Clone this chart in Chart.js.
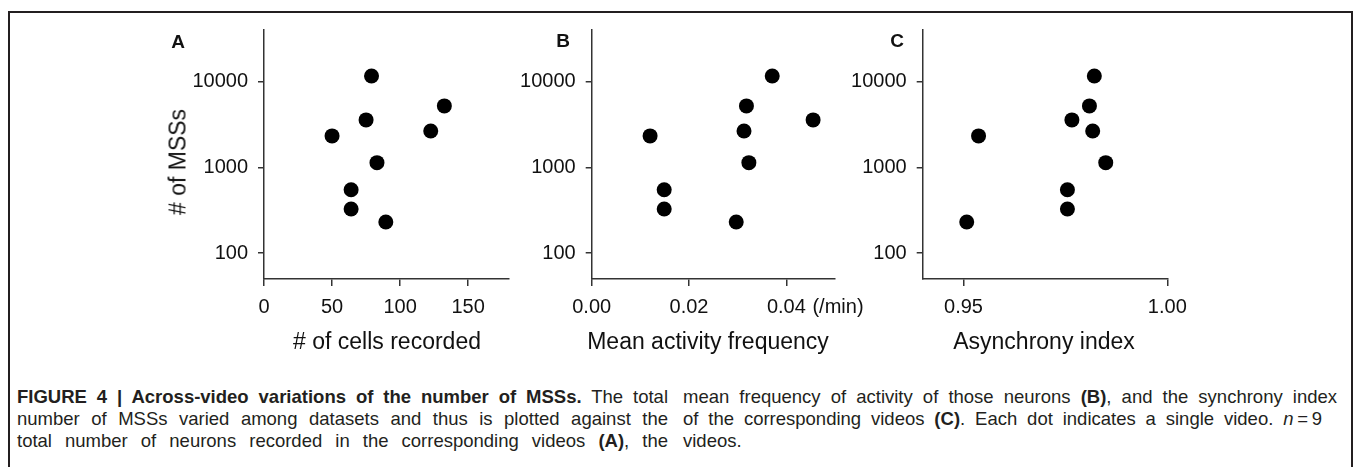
<!DOCTYPE html>
<html>
<head>
<meta charset="utf-8">
<script src="https://cdn.jsdelivr.net/npm/chart.js@4.4.0/dist/chart.umd.min.js"></script>
<style>
  body { margin: 0; background: #fff; }
  #page { position: relative; width: 1355px; height: 467px; overflow: hidden; font-family: "Liberation Sans", Arial, sans-serif; color: #111; }
  #frame { position: absolute; left: 8px; top: 11px; width: 1345px; height: 480px; box-sizing: border-box; border: 2px solid #231f20; border-bottom: none; }
  canvas { position: absolute; top: 0; }
  .lbl { position: absolute; transform: translate(-50%, -50%); white-space: nowrap; }
  .panel { font-weight: bold; font-size: 19px; }
  .title { font-size: 23px; }
  .unit { font-size: 20px; }
  .caption { position: absolute; top: 386px; font-family: "Liberation Sans", Arial, sans-serif; font-size: 18.5px; line-height: 22px; color: #231f20; }
  .caption span { display: block; white-space: nowrap; text-align: justify; text-align-last: justify; }
  .caption span.last { text-align-last: left; }
</style>
</head>
<body>
<div id="page">
  <div id="frame"></div>
  <canvas id="chartA" width="370" height="340" style="left:150px"></canvas>
  <canvas id="chartB" width="360" height="340" style="left:500px"></canvas>
  <canvas id="chartC" width="380" height="340" style="left:830px"></canvas>

  <div class="lbl panel" style="left:178px; top:42px">A</div>
  <div class="lbl panel" style="left:563px; top:41px">B</div>
  <div class="lbl panel" style="left:897px; top:41px">C</div>
  <div class="lbl title" style="left:178px; top:162px; transform:translate(-50%,-50%) rotate(-90deg)"># of MSSs</div>
  <div class="lbl title" style="left:387px; top:341px"># of cells recorded</div>
  <div class="lbl title" style="left:708px; top:341px">Mean activity frequency</div>
  <div class="lbl title" style="left:1044px; top:341px">Asynchrony index</div>
  <div class="lbl unit" style="left:838px; top:306px">(/min)</div>

  <div class="caption" style="left:17px; width:651px">
    <span><b>FIGURE 4 | Across-video variations of the number of MSSs.</b> The total</span>
    <span>number of MSSs varied among datasets and thus is plotted against the</span>
    <span>total number of neurons recorded in the corresponding videos <b>(A)</b>, the</span>
  </div>
  <div class="caption" style="left:683px; width:654px">
    <span>mean frequency of activity of those neurons <b>(B)</b>, and the synchrony index</span>
    <span style="padding-right:15px">of the corresponding videos <b>(C)</b>. Each dot indicates a single video. <i>n</i>&thinsp;=&thinsp;9</span>
    <span class="last">videos.</span>
  </div>
</div>

<script>
// number of MSSs per video (same for all panels)
var msss = [11650, 5210, 3580, 2660, 2330, 1137, 550, 327, 231];
var cellsRecorded = [79, 132.5, 75, 122.5, 50, 83, 64, 64, 89.5];
var meanFrequency = [0.0371, 0.0318, 0.0455, 0.0313, 0.0120, 0.0323, 0.0149, 0.0149, 0.0297];
var asynchronyIndex = [0.9821, 0.9809, 0.9766, 0.9817, 0.9537, 0.9849, 0.9755, 0.9755, 0.9508];

var yTicks = [100, 1000, 10000];
var yTickLabels = ['100', '1000', '10000'];
var xTicksA = [0, 50, 100, 150];
var xTickLabelsA = ['0', '50', '100', '150'];
var xTicksB = [0, 0.02, 0.04];
var xTickLabelsB = ['0.00', '0.02', '0.04'];
var xTicksC = [0.95, 1.0];
var xTickLabelsC = ['0.95', '1.00'];

var axisColor = '#333';
var tickFont = { family: '"Liberation Sans", Arial, sans-serif', size: 20 };

function makePoints(xs) {
  return xs.map(function (x, i) {
    return { x: x, y: msss[i] };
  });
}

function renderPanel(id, xs, xMin, xMax, xTicks, xLabels, padLeft, padRight) {
  var ctx = document.getElementById(id).getContext('2d');
  new Chart(ctx, {
    type: 'scatter',
    data: {
      datasets: [
        {
          data: makePoints(xs),
          backgroundColor: '#000',
          borderColor: '#000',
          borderWidth: 0,
          pointRadius: 7.5,
          pointHoverRadius: 7.5,
        },
      ],
    },
    options: {
      responsive: false,
      animation: false,
      devicePixelRatio: 1,
      layout: { padding: { left: padLeft, right: padRight, top: 30, bottom: 11 } },
      plugins: { legend: { display: false }, tooltip: { enabled: false } },
      scales: {
        x: {
          type: 'linear',
          min: xMin,
          max: xMax,
          afterBuildTicks: function (axis) {
            axis.ticks = xTicks.map(function (v) { return { value: v }; });
          },
          afterFit: function (axis) { axis.height = 50; },
          ticks: {
            font: tickFont,
            color: '#111',
            padding: 9,
            maxRotation: 0,
            callback: function (value) { return xLabels[xTicks.indexOf(value)]; },
          },
          grid: { display: true, drawOnChartArea: false, drawTicks: true, tickLength: 7, color: axisColor, lineWidth: 1.5 },
          border: { display: true, color: axisColor, width: 1.5 },
        },
        y: {
          type: 'logarithmic',
          min: 50,
          max: 40000,
          afterBuildTicks: function (axis) {
            axis.ticks = yTicks.map(function (v) { return { value: v }; });
          },
          afterFit: function (axis) { axis.width = 80; },
          ticks: {
            font: tickFont,
            color: '#111',
            padding: 10,
            callback: function (value) { return yTickLabels[yTicks.indexOf(value)]; },
          },
          grid: { display: true, drawOnChartArea: false, drawTicks: true, tickLength: 6, color: axisColor, lineWidth: 1.5 },
          border: { display: true, color: axisColor, width: 1.5 },
        },
      },
    },
  });
}

renderPanel('chartA', cellsRecorded, 0, 180, xTicksA, xTickLabelsA, 34, 11);
renderPanel('chartB', meanFrequency, 0, 0.05, xTicksB, xTickLabelsB, 11.7, 25);
renderPanel('chartC', asynchronyIndex, 0.94, 1.0, xTicksC, xTickLabelsC, 12.7, 42.7);
</script>
</body>
</html>
